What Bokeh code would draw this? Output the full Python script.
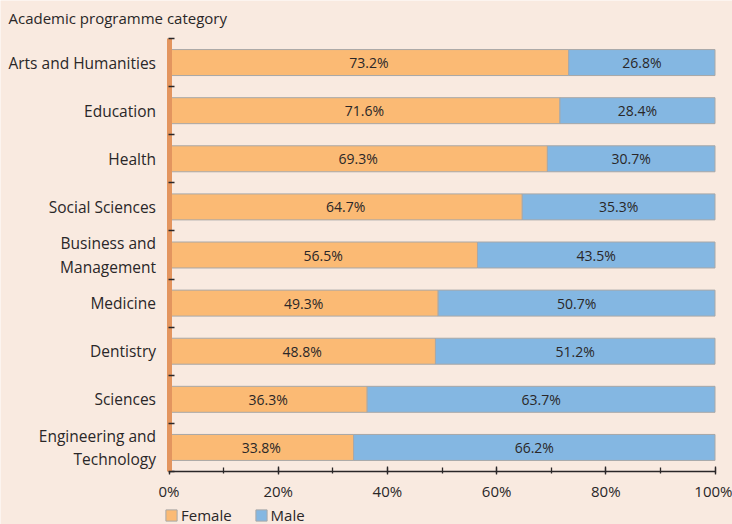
from bokeh.plotting import figure
from bokeh.models import (ColumnDataSource, Range1d, FixedTicker, LabelSet,
                          PrintfTickFormatter, Legend, Label)
from bokeh.core.properties import value
from bokeh.embed import file_html
from bokeh.resources import INLINE

categories = ["Arts and Humanities", "Education", "Health", "Social Sciences",
              "Business and\nManagement", "Medicine", "Dentistry", "Sciences",
              "Engineering and\nTechnology"]
female = [73.2, 71.6, 69.3, 64.7, 56.5, 49.3, 48.8, 36.3, 33.8]
male = [26.8, 28.4, 30.7, 35.3, 43.5, 50.7, 51.2, 63.7, 66.2]
x_ticks = [0, 20, 40, 60, 80, 100]
series_names = ["Female", "Male"]
axis_title = "Academic programme category"

BG = "#F9EAE0"
ORANGE = "#FBBA74"
BLUE = "#84B7E2"
TXT = "#2a2728"
FONT = "Open Sans"

# layout (pixels): the plotting frame covers the whole canvas, and the
# data block (0..100 %, 9 categories) sits in the box below
W, H = 732, 524
LEFT, RIGHT, TOP, BOTTOM = 168.5, 714.5, 38, 471
n = len(categories)
xs = 100 / (RIGHT - LEFT)
ys = n / (BOTTOM - TOP)
x_range = Range1d(-LEFT * xs, 100 + (W - RIGHT) * xs)
y_range = Range1d(n + (H - BOTTOM) * ys, -TOP * ys)

ycent = [i + 0.5 for i in range(n)]
source = ColumnDataSource(dict(
    y=ycent,
    female=female,
    male=male,
    fx=[f / 2 for f in female],
    mx=[f + m / 2 for f, m in zip(female, male)],
    ft=[f"{f:.1f}%" for f in female],
    mt=[f"{m:.1f}%" for m in male],
))

p = figure(width=W, height=H, x_range=x_range, y_range=y_range, title=None,
           output_backend="svg", toolbar_location=None,
           background_fill_color=BG, border_fill_color=BG, outline_line_color=None,
           min_border=0)

rs = p.hbar_stack(["female", "male"], y="y", height=0.54, color=[ORANGE, BLUE],
                  line_color="#a8a8a8", line_width=1, source=source)

for xcol, tcol in (("fx", "ft"), ("mx", "mt")):
    p.add_layout(LabelSet(x=xcol, y="y", text=tcol, source=source,
                          text_align="center", text_baseline="middle",
                          text_font=value(FONT), text_font_size="14px",
                          text_color=TXT))

p.xgrid.visible = False
p.ygrid.visible = False

# x axis
xa = p.xaxis[0]
xa.fixed_location = n
xa.bounds = (0, 100)
xa.ticker = FixedTicker(ticks=x_ticks, minor_ticks=list(range(0, 101, 10)))
xa.formatter = PrintfTickFormatter(format="%d%%")
xa.axis_line_color = TXT
xa.axis_line_width = 1.5
xa.major_tick_line_color = TXT
xa.major_tick_line_width = 1.3
xa.major_tick_in = 5
xa.major_tick_out = 3
xa.minor_tick_line_color = TXT
xa.minor_tick_line_width = 1.3
xa.minor_tick_in = 4
xa.minor_tick_out = 2
xa.major_label_standoff = 6
xa.major_label_text_font = FONT
xa.major_label_text_font_size = "15px"
xa.major_label_text_color = TXT

# y axis
ya = p.yaxis[0]
ya.fixed_location = 0
ya.bounds = (0, n)
ya.ticker = FixedTicker(ticks=ycent, minor_ticks=list(range(0, n + 1)))
ya.major_label_overrides = {c: lab for c, lab in zip(ycent, categories)}
ya.axis_line_color = "#E3955F"
ya.axis_line_width = 5
ya.major_tick_line_color = None
ya.major_tick_out = 0
ya.major_tick_in = 0
ya.minor_tick_line_color = TXT
ya.minor_tick_line_width = 1.3
ya.minor_tick_in = 5
ya.minor_tick_out = 1
ya.major_label_standoff = 12
ya.major_label_text_font = FONT
ya.major_label_text_font_size = "15.5px"
ya.major_label_text_color = TXT
ya.major_label_text_line_height = 1.05

# axis title above the category labels
p.add_layout(Label(x=8, y=H - 17, x_units="screen", y_units="screen",
                   text=axis_title, text_font=FONT, text_font_size="15px",
                   text_color=TXT, text_baseline="middle", text_align="left"))

legend = Legend(items=[(series_names[0], [rs[0]]), (series_names[1], [rs[1]])],
                orientation="horizontal", location=(164, -1),
                background_fill_alpha=0, border_line_color=None,
                label_text_font=FONT, label_text_font_size="15px",
                label_text_color=TXT, glyph_width=14, glyph_height=14,
                label_standoff=3, spacing=22, padding=0, margin=0,
                label_height=14)
p.add_layout(legend, "center")

open("out.html", "w").write(file_html(p, INLINE))
